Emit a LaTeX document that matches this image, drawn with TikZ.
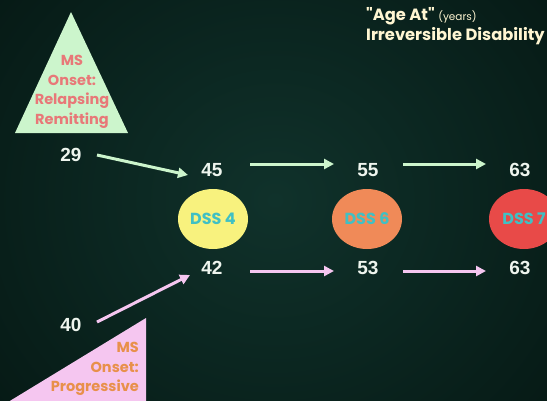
\documentclass[tikz,border=0pt]{standalone}
\usepackage{fontspec}
\setmainfont{Liberation Sans}
\newfontfamily\rndfont{Poppins}
\usetikzlibrary{arrows.meta,shapes.geometric}
\definecolor{bgA}{HTML}{10322B}
\definecolor{bgB}{HTML}{041511}
\definecolor{lgreen}{HTML}{CCF5CC}
\definecolor{lpink}{HTML}{F5C6F0}
\definecolor{salmon}{HTML}{E87878}
\definecolor{orangetx}{HTML}{E8904A}
\definecolor{dss4}{HTML}{F8F27E}
\definecolor{dss6}{HTML}{F08A58}
\definecolor{dss7}{HTML}{E84A48}
\definecolor{teal}{HTML}{40C0C4}
\definecolor{titletx}{HTML}{FFF6D2}
\definecolor{numtx}{HTML}{EEF5EE}
\tikzset{
  num/.style={font=\bfseries\fontsize{19}{21}\selectfont, text=numtx, inner sep=1pt},
  dss/.style={ellipse, minimum width=70pt, minimum height=60pt, inner sep=0pt,
              text=teal, font=\rndfont\bfseries\fontsize{16}{18}\selectfont},
  garrow/.style={draw=lgreen, line width=3pt, -{Triangle[length=10pt,width=10pt]}},
  parrow/.style={draw=lpink, line width=3pt, -{Triangle[length=10pt,width=10pt]}},
  tritext/.style={font=\rndfont\bfseries\fontsize{14.5}{19.5}\selectfont, inner sep=0pt},
  ttl/.style={anchor=west, text=titletx, font=\rndfont\bfseries\fontsize{16.3}{18}\selectfont, inner sep=0pt}
}
\begin{document}
\begin{tikzpicture}[x=1pt,y=-1pt]
\useasboundingbox (0,0) rectangle (547,400);
\clip (0,0) rectangle (547,400);
\shade[inner color=bgA, outer color=bgB] (-150,-200) rectangle (700,600);
% top triangle
\fill[lgreen] (71,12) -- (128,133) -- (15,133) -- cycle;
\node[tritext, text=salmon, align=center] (onsetRR) at (72,92) {MS\\Onset:\\Relapsing\\Remitting};
% bottom triangle
\fill[lpink] (146,318) -- (146,410) -- (-5,410) -- cycle;
\node[tritext, text=orangetx, align=right, anchor=east] (onsetP) at (139,369) {MS\\Onset:\\Progressive};
% title
\node[ttl] (title1) at (366,16) {"Age At" {\mdseries\fontsize{10.5}{12}\selectfont(years)}};
\node[ttl] (title2) at (366,36) {Irreversible Disability};
% numbers
\node[num] (n29) at (71,155) {29};
\node[num] (n45) at (212,170) {45};
\node[num] (n55) at (368,170) {55};
\node[num] (n63a) at (520,170) {63};
\node[num] (n40) at (71,325) {40};
\node[num] (n42) at (212,268) {42};
\node[num] (n53) at (368,268) {53};
\node[num] (n63b) at (520,268) {63};
% circles
\node[dss, fill=dss4] (d4) at (213,219) {DSS 4};
\node[dss, fill=dss6] (d6) at (367,219) {DSS 6};
\node[dss, fill=dss7] (d7) at (524,219) {DSS 7};
% arrows
\coordinate (a29s) at (97,155);
\coordinate (a29e) at (188,175);
\coordinate (a40s) at (97,322);
\coordinate (a40e) at (190,275);
\draw[garrow] (a29s) -- (a29e);
\draw[parrow] (a40s) -- (a40e);
\draw[garrow] ([xshift=38pt,yshift=6pt]n45.center) -- ([xshift=-34pt,yshift=6pt]n55.center);
\draw[garrow] ([xshift=35pt,yshift=6pt]n55.center) -- ([xshift=-34pt,yshift=6pt]n63a.center);
\draw[parrow] ([xshift=38pt,yshift=-3pt]n42.center) -- ([xshift=-34pt,yshift=-3pt]n53.center);
\draw[parrow] ([xshift=35pt,yshift=-3pt]n53.center) -- ([xshift=-34pt,yshift=-3pt]n63b.center);
\end{tikzpicture}
\end{document}
